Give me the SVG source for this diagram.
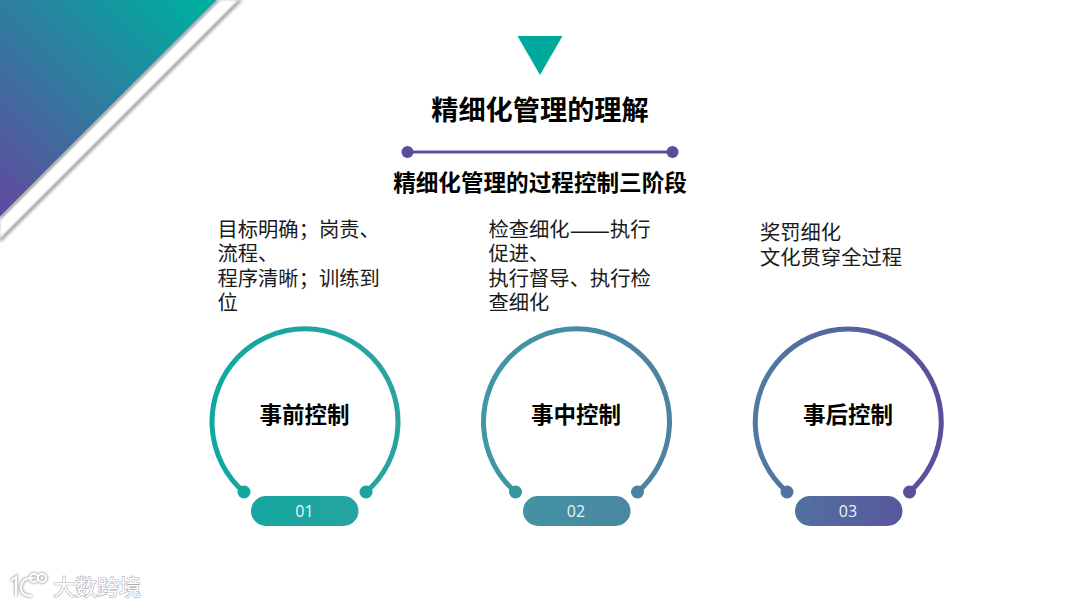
<svg xmlns="http://www.w3.org/2000/svg" width="1080" height="607" viewBox="0 0 1080 607">
<style>
text{font-family:"Noto Sans CJK SC","Liberation Sans",sans-serif}
.t{font-weight:700;fill:#000;text-anchor:middle}
.b{font-size:20.300px;fill:#1a1a1a}
.l{font-size:22.500px;font-weight:700;fill:#000;text-anchor:middle}
.n{font-size:16px;fill:#e8f4f3;text-anchor:middle;font-family:"Open Sans","Noto Sans",sans-serif}
.arc{fill:none;stroke-width:5;stroke:url(#g)}
.wm{font-size:22px;fill:#fff}
</style>
<defs>
<linearGradient id="g" gradientUnits="userSpaceOnUse" x1="210" y1="0" x2="945" y2="0"><stop offset="0" stop-color="#10a8a0"/><stop offset=".26" stop-color="#2ba3a0"/><stop offset=".37" stop-color="#3f98a2"/><stop offset=".62" stop-color="#4e82a2"/><stop offset=".74" stop-color="#4f7aa2"/><stop offset="1" stop-color="#5b4d9b"/></linearGradient>
<linearGradient id="ban" gradientUnits="userSpaceOnUse" x1="0" y1="210" x2="200" y2="10"><stop offset="0" stop-color="#614a9e"/><stop offset="1" stop-color="#00aca0"/></linearGradient>
<filter id="s" x="-20%" y="-20%" width="140%" height="140%"><feGaussianBlur stdDeviation="1.500"/></filter>
<filter id="s2" x="-20%" y="-20%" width="140%" height="140%"><feGaussianBlur stdDeviation="1"/></filter>
<filter id="ws" x="-20%" y="-20%" width="140%" height="140%"><feGaussianBlur stdDeviation="1"/></filter>
</defs>
<rect width="1080" height="607" fill="#fff"/>
<g id="banner">
<polygon points="216,0 242.500,0 0,242.500 0,216" fill="#989898" filter="url(#s)"/>
<polygon points="220,0 238.500,0 0,238.500 0,220" fill="#fff" filter="url(#s2)"/>
<polygon points="0,0 216.500,0 0,216.500" fill="url(#ban)"/>
</g>
<g id="header">
<polygon points="517.500,36 562.500,36 540,75" fill="#00a99d"/>
<text class="t" x="540" y="120" font-size="27.200">精细化管理的理解</text>
<line x1="407" y1="152" x2="672" y2="152" stroke="#5b4d9b" stroke-width="3"/>
<circle cx="407.500" cy="152" r="6" fill="#5b4d9b"/>
<circle cx="672.500" cy="152" r="6" fill="#5b4d9b"/>
<text class="t" x="540" y="191" font-size="22.600">精细化管理的过程控制三阶段</text>
</g>
<g id="desc-1">
<text class="b"><tspan x="217.500" y="237">目标明确；岗责、</tspan><tspan x="217.500" y="261">流程、</tspan><tspan x="217.500" y="286">程序清晰；训练到</tspan><tspan x="217.500" y="310">位</tspan></text>
</g>
<g id="desc-2">
<text class="b"><tspan x="488.500" y="237">检查细化<tspan font-size="24" dy="1.500">——</tspan><tspan dy="-1.500">执行</tspan></tspan><tspan x="488.500" y="261">促进、</tspan><tspan x="488.500" y="286">执行督导、执行检</tspan><tspan x="488.500" y="310">查细化</tspan></text>
</g>
<g id="desc-3">
<text class="b"><tspan x="760" y="240">奖罚细化</tspan><tspan x="760" y="265">文化贯穿全过程</tspan></text>
</g>
<g id="node-1">
<path class="arc" d="M244 492A93 93 0 1 1 366 492"/>
<circle cx="244" cy="492" r="6.500" fill="#12a7a0"/><circle cx="366" cy="492" r="6.500" fill="#1ba3a0"/>
<rect x="251" y="496" width="107.500" height="30" rx="15" fill="url(#g)"/>
<text class="l" x="304.500" y="423">事前控制</text>
<text class="n" x="304.500" y="517">01</text>
</g>
<g id="node-2">
<path class="arc" d="M515.500 492A93 93 0 1 1 637.500 492"/>
<circle cx="515.500" cy="492" r="6.500" fill="#3c93a2"/><circle cx="637.500" cy="492" r="6.500" fill="#4a83a2"/>
<rect x="523" y="496" width="107.500" height="30" rx="15" fill="url(#g)"/>
<text class="l" x="576" y="423">事中控制</text>
<text class="n" x="576" y="517">02</text>
</g>
<g id="node-3">
<path class="arc" d="M787 492A93 93 0 1 1 909.500 492"/>
<circle cx="787" cy="492" r="6.500" fill="#50739f"/><circle cx="909.500" cy="492" r="6.500" fill="#5b4d9b"/>
<rect x="795" y="496" width="107.500" height="30" rx="15" fill="url(#g)"/>
<text class="l" x="848" y="423">事后控制</text>
<text class="n" x="848" y="517">03</text>
</g>
<g id="watermark">
<g filter="url(#ws)">
<g fill="none" stroke="#aaa" stroke-width="3.500">
<path d="M11 581L16 577V596M33 578Q22 577 21 587Q21 596 32 596"/><circle cx="34" cy="578" r="4"/><circle cx="42" cy="578" r="4"/>
</g>
</g>
<g fill="none" stroke="#fff" stroke-width="2">
<path d="M11 581L16 577V596M33 578Q22 577 21 587Q21 596 32 596"/><circle cx="34" cy="578" r="4"/><circle cx="42" cy="578" r="4"/>
</g>
<text class="wm" x="53" y="595" stroke="#b0b0b0" stroke-width="1.200" paint-order="stroke">大数跨境</text>
</g>
</svg>
